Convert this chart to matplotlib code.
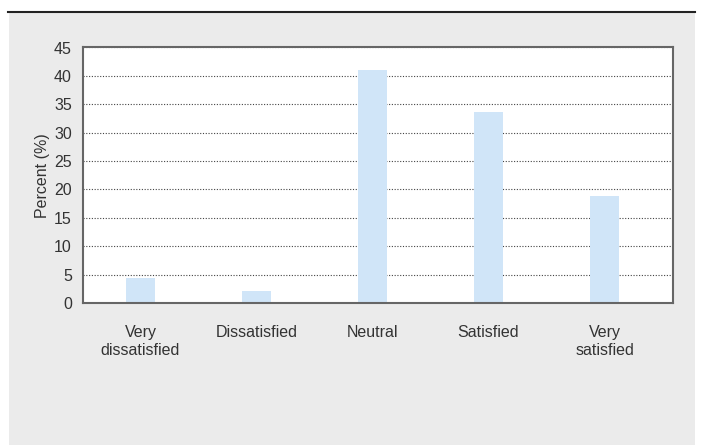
import numpy as np
import matplotlib
matplotlib.use('Agg')
import matplotlib.pyplot as plt
from matplotlib.patches import Rectangle
from matplotlib.lines import Line2D

plt.rcParams['font.family'] = ['Liberation Sans', 'DejaVu Sans']

categories = ['Very\ndissatisfied', 'Dissatisfied', 'Neutral', 'Satisfied', 'Very\nsatisfied']
percent = [4.4, 2.1, 41.1, 33.6, 18.8]
yticks = [0, 5, 10, 15, 20, 25, 30, 35, 40, 45]

W, H = 701, 445
fig = plt.figure(figsize=(W / 100, H / 100), dpi=100)
fig.patch.set_facecolor('white')

# grey panel and top rule
fig.add_artist(Rectangle((9 / W, 0), (695 - 9) / W, (H - 12) / H,
                         transform=fig.transFigure, facecolor='#ebebeb',
                         edgecolor='none', zorder=0))
fig.add_artist(Line2D([8 / W, 695 / W], [1 - 11.5 / H, 1 - 11.5 / H],
                      transform=fig.transFigure, color='#222222', lw=1.5))

ax = fig.add_axes([83 / W, 1 - 303 / H, (673 - 83) / W, (303 - 47.5) / H])
ax.set_facecolor('white')
x = np.arange(len(categories))
ax.bar(x, percent, width=0.25, color='#d0e5f8', zorder=2)

ax.set_xlim(-0.496, 4.59)
ax.set_ylim(0, 45)
ax.set_yticks(yticks)
ax.set_xticks(x)
ax.set_xticklabels(categories, fontsize=11.5, color='#333333', linespacing=1.2)
ax.tick_params(axis='both', length=0, labelsize=11.5, colors='#333333')
ax.tick_params(axis='x', pad=16)
ax.tick_params(axis='y', pad=8)
ax.yaxis.grid(True, linestyle=(0, (1, 1.5)), color='#444444', lw=0.8, zorder=1)
for s in ax.spines.values():
    s.set_color('#666666')
    s.set_linewidth(1.5)
ax.set_ylabel('Percent (%)', fontsize=11.5, color='#333333', labelpad=3)

fig.savefig('out.png', dpi=100, facecolor=fig.get_facecolor())
